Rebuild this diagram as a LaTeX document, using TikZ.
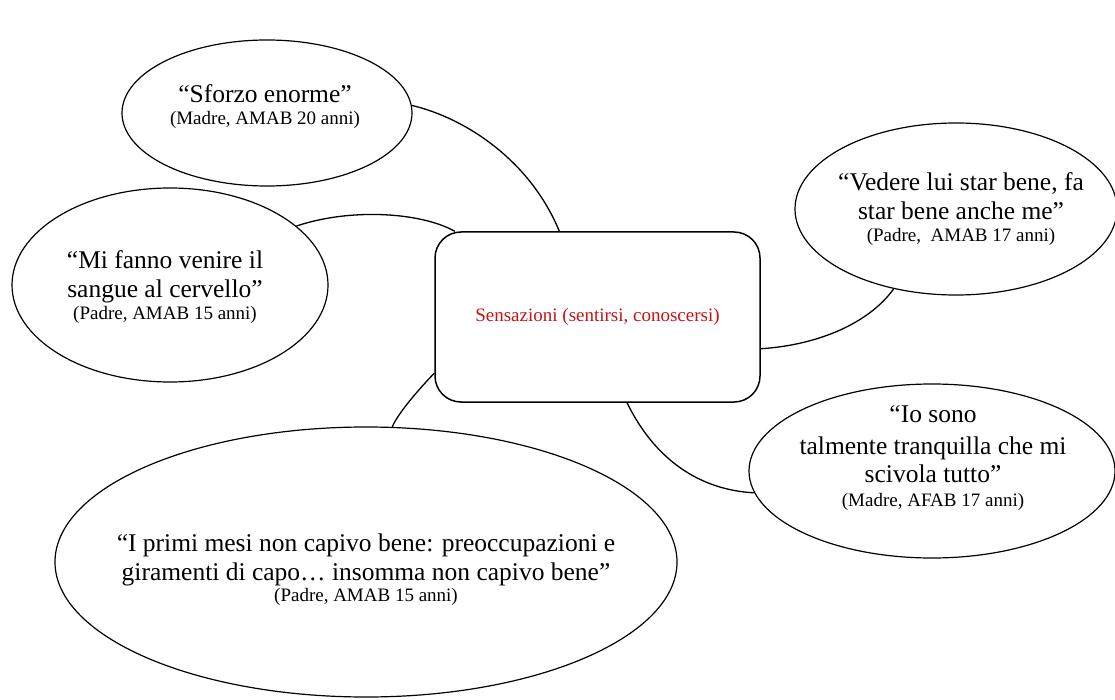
\documentclass[tikz,border=0pt]{standalone}
\usepackage{fontspec}
\setmainfont{Liberation Serif}
\usetikzlibrary{shapes.geometric}
\definecolor{sensred}{RGB}{200,20,20}
\newcommand{\attrib}[1]{{\fontsize{19}{22}\selectfont #1}}
\begin{document}
\begin{tikzpicture}[x=1pt,y=-1pt,
  bubble/.style={ellipse,draw=black,line width=1.2pt,inner sep=0pt,fill=white},
  quotetext/.style={align=center,inner sep=0pt,anchor=north,font=\fontsize{25.5}{29}\selectfont},
  link/.style={draw=black,line width=1.3pt},
  hub/.style={rectangle,rounded corners=26pt,draw=black,line width=1.5pt,fill=white,inner sep=0pt,
    minimum width=325pt,minimum height=170pt,font=\fontsize{19}{22}\selectfont,text=sensred}]
\fill[white] (0,0) rectangle (1115,700);
\useasboundingbox (0,0) rectangle (1115,700);

% bubbles
\node[bubble,minimum width=290pt,minimum height=146pt] (s) at (267,113) {};
\node[bubble,minimum width=316pt,minimum height=194pt] (m) at (170,285) {};
\node[bubble,minimum width=322pt,minimum height=172pt] (v) at (956,209) {};
\node[bubble,minimum width=366pt,minimum height=174pt] (io) at (932,471) {};
\node[bubble,minimum width=622pt,minimum height=270pt] (big) at (366,562) {};

% central box
\node[hub] (box) at (597.5,317) {Sensazioni (sentirsi, conoscersi)};

% texts
\node[quotetext] (ts) at (265,84) {“Sforzo enorme”\\[-7pt]\attrib{(Madre, AMAB 20 anni)}};
\node[quotetext] (tm) at (165,250) {“Mi fanno venire il\\sangue al cervello”\\[-7pt]\attrib{(Padre, AMAB 15 anni)}};
\node[quotetext] (tv) at (961,172) {“Vedere lui star bene, fa\\star bene anche me”\\[-7pt]\attrib{(Padre,~ AMAB 17 anni)}};
\node[quotetext] (tio) at (933,405) {“Io sono\\[3pt]talmente tranquilla che mi\\[-1pt]scivola tutto”\\[-5pt]\attrib{(Madre, AFAB 17 anni)}};
\node[quotetext] (tbig) at (366,534) {“I primi mesi non capivo bene: preoccupazioni e\\giramenti di capo… insomma non capivo bene”\\[-8pt]\attrib{(Padre, AMAB 15 anni)}};

% connectors
\draw[link] (s.3) .. controls (465,118) and (530,160) .. (box.114);
\draw[link] (m.25) .. controls (350,208) and (420,212) .. (box.149);
\draw[link] (box.-11) .. controls (820,345) and (870,322) .. (v.232);
\draw[link] (box.-71) .. controls (655,460) and (700,490) .. (io.187);
\draw[link] (box.199) .. controls (420,388) and (398,413) .. (big.79);
\end{tikzpicture}
\end{document}
